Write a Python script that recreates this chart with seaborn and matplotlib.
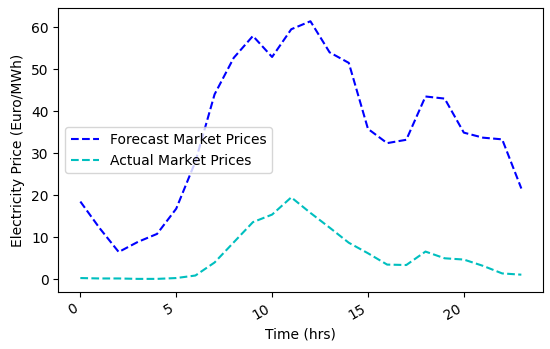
import numpy as np
import pandas as pd
import matplotlib
matplotlib.use("Agg")
import matplotlib.pyplot as plt
import seaborn as sns

# ==========================================
# Data
# ==========================================

hours = list(range(24))

forecast_prices = [18.5, 12.2, 6.5, 8.9, 10.8, 16.8, 28.0, 44.0, 52.7, 57.9,
                   52.9, 59.5, 61.4, 54.0, 51.5, 35.8, 32.4, 33.2, 43.5, 43.0,
                   34.9, 33.7, 33.3, 21.6]

actual_prices = [0.3, 0.2, 0.2, 0.1, 0.1, 0.3, 0.9, 4.0, 8.8, 13.6,
                 15.4, 19.5, 15.8, 12.3, 8.7, 6.2, 3.5, 3.4, 6.6, 5.0,
                 4.7, 3.2, 1.4, 1.1]

df = pd.DataFrame({
    "hour": hours,
    "forecast": forecast_prices,
    "actual": actual_prices,
})

# ==========================================
# Plot
# ==========================================

fig, ax = plt.subplots(figsize=(5.5, 3.49), dpi=100)

sns.lineplot(data=df, x="hour", y="forecast", ax=ax,
             color="b", linestyle="--", label="Forecast Market Prices")
sns.lineplot(data=df, x="hour", y="actual", ax=ax,
             color="c", linestyle="--", label="Actual Market Prices")

ax.set_xlabel("Time (hrs)")
ax.set_ylabel("Electricity Price (Euro/MWh)")
ax.legend(loc="center left")

for label in ax.get_xticklabels():
    label.set_rotation(30)
    label.set_ha("right")

plt.subplots_adjust(left=0.106, right=0.988, top=0.976, bottom=0.164)

plt.savefig("out.png")
